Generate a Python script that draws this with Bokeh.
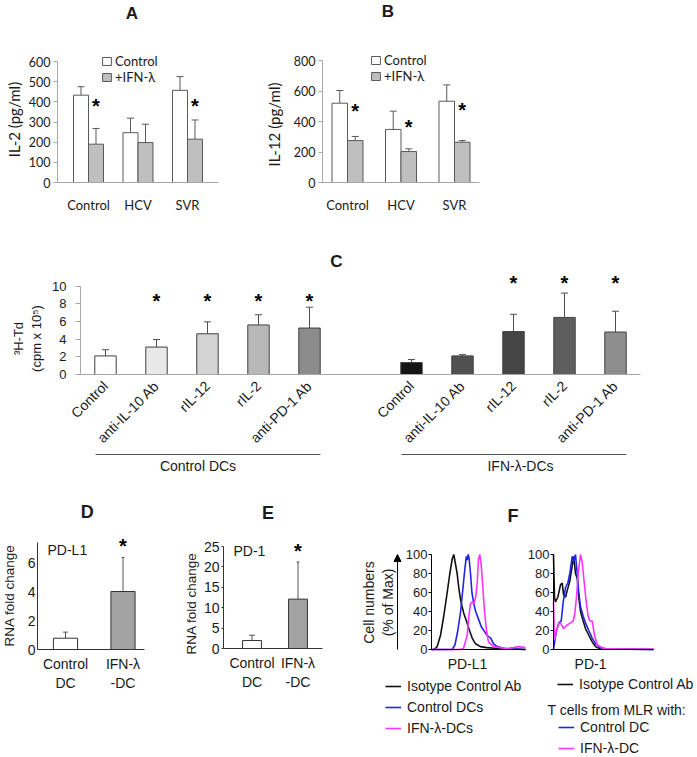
from math import pi
from bokeh.plotting import figure
from bokeh.layouts import column, row
from bokeh.models import (Range1d, FixedTicker, LinearAxis, Label, Legend, LegendItem,
                          Whisker, TeeHead, ColumnDataSource, Arrow, NormalHead)
from bokeh.core.properties import value
from bokeh.embed import file_html
from bokeh.resources import INLINE

# ---------------- data ----------------
ab_groups = ["Control", "HCV", "SVR"]
il2_control = [433, 247, 457]
il2_control_sd = [42, 72, 68]
il2_ifn = [190, 198, 215]
il2_ifn_sd = [78, 91, 95]
il2_star_y = [383, None, 383]

il12_control = [520, 348, 533]
il12_control_sd = [83, 120, 107]
il12_ifn = [275, 203, 264]
il12_ifn_sd = [27, 18, 11]
il12_star_y = [477, 369, 483]

c_treatments = ["Control", "anti-IL-10 Ab", "rIL-12", "rIL-2", "anti-PD-1 Ab"]
c_groups = ["Control DCs", "IFN-λ-DCs"]
c_ctrl_dc = [2.1, 3.1, 4.6, 5.6, 5.25]
c_ctrl_dc_sd = [0.7, 0.85, 1.35, 1.15, 2.35]
c_ifn_dc = [1.35, 2.1, 4.85, 6.45, 4.8]
c_ifn_dc_sd = [0.35, 0.15, 1.95, 2.75, 2.35]
c_ctrl_star = [False, True, True, True, True]
c_ifn_star = [False, False, True, True, True]
c_star_y = [8.45, 10.45]

de_labels = ["Control\nDC", "IFN-λ\n-DC"]
pdl1_fold = [0.78, 4.0]
pdl1_sd = [0.42, 2.35]
pdl1_star_y = 7.2
pd1_fold = [1.95, 12.1]
pd1_sd = [1.3, 9.1]
pd1_star_y = 24.2

# flow cytometry histograms (channel position 0-100, % of max)
pdl1_iso_x = [0, 3, 6, 9.6, 13, 16.7, 19.5, 22, 23.7, 25.5, 27.3, 29, 31, 32.6, 34.4, 37.2, 39.7, 43.3, 46.8, 52, 59, 70, 87, 100]
pdl1_iso_y = [0, 0, 3, 15, 35, 60, 80, 95, 100, 90, 80, 65, 52, 45, 38, 30, 22, 12, 6, 3, 2, 1, 0.5, 0]
pdl1_ctl_x = [0, 22, 25, 28, 31, 33, 35, 37, 38, 39, 40, 41.5, 43, 45, 47, 50, 53, 57, 60, 63, 66, 70, 78, 100]
pdl1_ctl_y = [0, 0, 5, 20, 40, 60, 80, 98, 94, 100, 96, 80, 60, 48, 40, 32, 24, 18, 14, 12, 6, 3, 1, 0]
pdl1_ifn_x = [0, 30, 34, 38, 39.7, 41.5, 43, 45, 47, 48.6, 50, 51.4, 52.8, 55, 56.4, 58.5, 60.6, 66, 73, 80.5, 87, 92.5, 100]
pdl1_ifn_y = [0, 0, 1, 15, 35, 48, 50, 48, 55, 70, 95, 100, 90, 60, 40, 20, 8, 3, 2, 1, 2, 3, 2]

pd1_iso_x = [0, 1, 2, 4.3, 7, 8.7, 10, 12, 13.7, 16.3, 18.7, 20.3, 22, 23.7, 25.3, 27, 29.7, 32, 35.3, 38.7, 42, 47, 100]
pd1_iso_y = [100, 55, 50, 55, 68, 70, 58, 55, 62, 72, 88, 98, 80, 75, 55, 40, 30, 22, 15, 8, 3, 0.5, 0]
pd1_ctl_x = [0, 3, 5.3, 7.7, 9.7, 12, 14.3, 16.3, 18.7, 20.3, 22, 23.7, 25.3, 27, 29.7, 32, 35.3, 38.7, 42, 47, 54, 100]
pd1_ctl_y = [0, 20, 28, 30, 50, 65, 70, 80, 98, 92, 100, 80, 60, 45, 35, 28, 20, 12, 6, 2, 0.5, 0]
pd1_ifn_x = [0, 1, 3, 5.3, 7.7, 10, 12.7, 17, 19.7, 21.3, 23, 24.7, 27, 28.7, 30.3, 32.7, 34.7, 36.3, 38.7, 41, 43.7, 50, 70, 100]
pd1_ifn_y = [50, 10, 20, 28, 27, 22, 25, 28, 30, 38, 55, 80, 100, 92, 75, 50, 35, 30, 30, 15, 5, 1, 0.5, 0.5]

# ---------------- styling helpers ----------------
FONT = "Liberation Sans"
FONT_AB = "Lato"
AX_GREY = "#a6a6a6"
TXT = "#1a1a1a"


def mkfig(g):
    xr = ((g["x0"] - g["ox"]) / g["sx"], (g["x0"] + g["w"] - g["ox"]) / g["sx"])
    yr = ((g["oy"] - (g["y0"] + g["h"])) / g["sy"], (g["oy"] - g["y0"]) / g["sy"])
    p = figure(width=g["w"], height=g["h"], x_range=Range1d(*xr), y_range=Range1d(*yr),
               min_border_left=0, min_border_right=0, min_border_top=0, min_border_bottom=0,
               output_backend="svg", toolbar_location=None, tools="", title=None)
    p.xgrid.visible = False
    p.ygrid.visible = False
    p.outline_line_color = None
    p.background_fill_color = "white"
    p.border_fill_color = "white"
    for ax in (p.xaxis[0], p.yaxis[0]):
        ax.minor_tick_out = 0
        ax.minor_tick_in = 0
        ax.major_tick_in = 0
        ax.major_label_text_color = TXT
    # axes sit at the frame edges given in page pixels
    xa, ya = at(g, g["fx0"], g["fy1"])
    xb, yb = at(g, g["fx1"], g["fy0"])
    p.yaxis[0].fixed_location = xa
    p.xaxis[0].fixed_location = 0
    p.xaxis[0].bounds = (xa, xb)
    return p


def at(g, px, py):
    return (px - g["ox"]) / g["sx"], (g["oy"] - py) / g["sy"]


def note(p, g, px, py, text, size, bold=False, align="center", font=FONT, angle=0):
    x, y = at(g, px, py)
    p.add_layout(Label(x=x, y=y, text=text, text_font=font, text_font_size=size, angle=angle,
                       text_font_style="bold" if bold else "normal", text_align=align,
                       text_baseline="middle", text_color=TXT))


def errbars(p, xs, tops, sds, color, head):
    src = ColumnDataSource(dict(x=xs, lo=tops, hi=[t + s for t, s in zip(tops, sds)]))
    p.add_layout(Whisker(source=src, base="x", lower="lo", upper="hi", dimension="height",
                         line_color=color, line_width=1, lower_head=None,
                         upper_head=TeeHead(size=head, line_color=color, line_width=1)))


def stars(p, xs, ys, size=20):
    p.text(x=xs, y=ys, text=["*"] * len(xs), text_font=value(FONT), text_font_style="bold",
           text_font_size=f"{size}px", text_align="center", text_baseline="alphabetic",
           y_offset=1, text_color="black")


def style_y(ax, ticks, font, fsize, tick_out, standoff, color, bounds=None):
    ax.ticker = FixedTicker(ticks=ticks)
    ax.major_label_text_font = font
    ax.major_label_text_font_size = fsize
    ax.major_tick_out = tick_out
    ax.major_tick_line_color = color
    ax.major_label_standoff = standoff
    ax.axis_line_color = color
    if bounds is not None:
        ax.bounds = bounds


def style_x(ax, ticks, labels, font, fsize, standoff, color, orientation="horizontal"):
    ax.ticker = FixedTicker(ticks=ticks)
    ax.major_label_overrides = {t: l for t, l in zip(ticks, labels)}
    ax.major_label_text_font = font
    ax.major_label_text_font_size = fsize
    ax.major_tick_out = 0
    ax.major_label_standoff = standoff
    ax.axis_line_color = color
    ax.major_label_orientation = orientation


def legend_at(g, left, bottom):
    return (left - g["x0"], g["y0"] + g["h"] - bottom)


# ---------------- panels A and B ----------------
def cytokine_panel(g, ctrl, ctrl_sd, ifn, ifn_sd, star_y, ylabel, ylab_xy, yticks, ybound, dodge, bw,
                   title_xy, legend_lb):
    p = mkfig(g)
    idx = list(range(len(ab_groups)))
    xc = [i - dodge for i in idx]
    xi = [i + dodge for i in idx]
    r1 = p.vbar(x=xc, top=ctrl, width=bw, fill_color="white", line_color="#595959", line_width=1)
    r2 = p.vbar(x=xi, top=ifn, width=bw, fill_color="#bfbfbf", line_color="#595959", line_width=1)
    errbars(p, xc, ctrl, ctrl_sd, "#595959", 7)
    errbars(p, xi, ifn, ifn_sd, "#595959", 7)
    sx = [x for x, s in zip(xi, star_y) if s is not None]
    sy = [s for s in star_y if s is not None]
    stars(p, sx, sy)
    style_y(p.yaxis[0], yticks, FONT_AB, "12.5px", 4, 3, AX_GREY, ybound)
    style_x(p.xaxis[0], idx, ab_groups, FONT_AB, "13px", 14, AX_GREY)
    leg = Legend(items=[LegendItem(label="Control", renderers=[r1]),
                        LegendItem(label="+IFN-λ", renderers=[r2])],
                 location=legend_at(g, *legend_lb), glyph_width=11, glyph_height=10, label_standoff=3,
                 spacing=0, padding=0, margin=0, label_height=15,
                 label_text_font=FONT_AB, label_text_font_size="13px", label_text_color=TXT,
                 border_line_color=None, background_fill_alpha=0)
    p.add_layout(leg)
    note(p, g, ylab_xy[0], ylab_xy[1], ylabel, "15px", font=FONT_AB, angle=pi / 2)
    note(p, g, title_xy[0], title_xy[1], title_xy[2], "17px", bold=True)
    return p


gA = dict(x0=0, y0=0, w=245, h=230, ox=88, sx=49.5, oy=182, sy=121 / 600, fx0=57, fx1=218, fy0=61, fy1=182)
gB = dict(x0=245, y0=0, w=451, h=230, ox=347, sx=53.5, oy=182, sy=122 / 800, fx0=322, fx1=479, fy0=60, fy1=182)
pA = cytokine_panel(gA, il2_control, il2_control_sd, il2_ifn, il2_ifn_sd, il2_star_y, "IL-2 (pg/ml)", (13.5, 119),
                    [0, 100, 200, 300, 400, 500, 600], (0, 600), 0.1515, 0.303, (131.5, 12.5, "A"), (101, 84.5))
pB = cytokine_panel(gB, il12_control, il12_control_sd, il12_ifn, il12_ifn_sd, il12_star_y, "IL-12 (pg/ml)", (273, 124),
                    [0, 200, 400, 600, 800], (0, 800), 0.145, 0.29, (387.5, 11, "B"), (370, 83.5))

# ---------------- panel C ----------------
gC = dict(x0=0, y0=230, w=696, h=265, ox=105, sx=51.0, oy=374, sy=8.85, fx0=80, fx1=640, fy0=285.5, fy1=374)
pC = mkfig(gC)
c_ctrl_x = [0, 1, 2, 3, 4]
c_ifn_x = [6, 7, 8, 9, 10]
ctrl_fills = ["#ffffff", "#e8e8e8", "#d4d4d4", "#b8b8b8", "#8c8c8c"]
ifn_fills = ["#141414", "#505050", "#454545", "#5e5e5e", "#8e8e8e"]
pC.vbar(x=c_ctrl_x, top=c_ctrl_dc, width=0.42, fill_color=ctrl_fills, line_color="#404040", line_width=1)
pC.vbar(x=c_ifn_x, top=c_ifn_dc, width=0.42, fill_color=ifn_fills, line_color="#404040", line_width=1)
errbars(pC, c_ctrl_x, c_ctrl_dc, c_ctrl_dc_sd, "#505050", 7)
errbars(pC, c_ifn_x, c_ifn_dc, c_ifn_dc_sd, "#505050", 7)
stars(pC, [x for x, s in zip(c_ctrl_x, c_ctrl_star) if s], [c_star_y[0]] * sum(c_ctrl_star))
stars(pC, [x for x, s in zip(c_ifn_x, c_ifn_star) if s], [c_star_y[1]] * sum(c_ifn_star))
style_y(pC.yaxis[0], [0, 2, 4, 6, 8, 10], FONT, "13px", 5, 9, AX_GREY, (0, 10))
style_x(pC.xaxis[0], c_ctrl_x + c_ifn_x, c_treatments + c_treatments, FONT, "14px", 9, AX_GREY, pi / 4)
bracket_y = at(gC, 0, 454)[1]
for grp in (c_ctrl_x, c_ifn_x):
    br = LinearAxis(ticker=FixedTicker(ticks=[]), bounds=(grp[0] - 0.2, grp[-1] + 0.22), axis_line_color="#555555",
                    major_tick_out=0, major_tick_in=0, minor_tick_out=0, minor_tick_in=0,
                    major_label_text_font_size="0px", major_label_standoff=0, fixed_location=bracket_y)
    pC.add_layout(br, "below")
note(pC, gC, 197.5, 465, c_groups[0], "14px")
note(pC, gC, 520, 465, c_groups[1], "14px")
note(pC, gC, 27, 338, "³H-Td\n(cpm x 10⁵)", "13px", angle=pi / 2)
note(pC, gC, 336, 261, "C", "17px", bold=True)


# ---------------- panels D and E ----------------
def fold_panel(g, vals, sds, star_y, ticks, tag, tag_xy, title_xy, ylab_xy, bw, heads, tick_out):
    p = mkfig(g)
    xs = [0, 1]
    p.vbar(x=xs, top=vals, width=bw, fill_color=["white", "#a3a3a3"], line_color="#333333", line_width=1)
    for x, v, s, h in zip(xs, vals, sds, heads):
        errbars(p, [x], [v], [s], "#555555", h)
    stars(p, [1], [star_y])
    style_y(p.yaxis[0], ticks, FONT, "14px", tick_out, 2, "#333333", (0, at(g, 0, g["fy0"])[1]))
    style_x(p.xaxis[0], xs, de_labels, FONT, "14px", 6, "#333333")
    note(p, g, tag_xy[0], tag_xy[1], tag, "14px", align="left")
    note(p, g, ylab_xy[0], ylab_xy[1], "RNA fold change", "13.5px", angle=pi / 2)
    note(p, g, title_xy[0], title_xy[1], title_xy[2], "18px", bold=True)
    return p


gD = dict(x0=0, y0=495, w=180, h=261, ox=65, sx=57.5, oy=649, sy=14.5, fx0=37, fx1=144, fy0=542, fy1=649)
gE = dict(x0=180, y0=495, w=172, h=261, ox=251.5, sx=46, oy=648, sy=4.08, fx0=223, fx1=322, fy0=546, fy1=648)
pD = fold_panel(gD, pdl1_fold, pdl1_sd, pdl1_star_y, [0, 2, 4, 6], "PD-L1", (47, 549), (86.7, 511.5, "D"),
                (9, 595), 0.42, [5, 3], 0)
pE = fold_panel(gE, pd1_fold, pd1_sd, pd1_star_y, [0, 5, 10, 15, 20, 25], "PD-1", (233, 550), (267.5, 512.5, "E"),
                (191, 603), 0.41, [6, 3], 2)

# ---------------- panel F ----------------
ISO, BLUE, MAG = "#111111", "#2323e6", "#ff33ff"


def hist_panel(g, series):
    p = mkfig(g)
    rs = []
    for xs, ys, c in series:
        rs.append(p.line(xs, ys, line_color=c, line_width=1.6))
    style_y(p.yaxis[0], [0, 20, 40, 60, 80, 100], FONT, "13px", 3, 1, "black", (0, 100))
    ax = p.xaxis[0]
    ax.ticker = FixedTicker(ticks=[])
    ax.major_label_text_font_size = "0px"
    ax.major_tick_out = 0
    ax.axis_line_color = "black"
    return p, rs


gFL = dict(x0=352, y0=495, w=175, h=261, ox=431, sx=0.94, oy=649, sy=0.95, fx0=431, fx1=525, fy0=554, fy1=649)
gFR = dict(x0=527, y0=495, w=169, h=261, ox=553, sx=1.0, oy=649, sy=0.95, fx0=553, fx1=653, fy0=554, fy1=649)
pFL, rL = hist_panel(gFL, [(pdl1_iso_x, pdl1_iso_y, ISO), (pdl1_ctl_x, pdl1_ctl_y, BLUE), (pdl1_ifn_x, pdl1_ifn_y, MAG)])
pFR, rR = hist_panel(gFR, [(pd1_iso_x, pd1_iso_y, ISO), (pd1_ctl_x, pd1_ctl_y, BLUE), (pd1_ifn_x, pd1_ifn_y, MAG)])

arrow_x = at(gFL, 397, 0)[0]
pFL.add_layout(Arrow(x_start=arrow_x, y_start=0, x_end=arrow_x, y_end=100, line_color="black", line_width=1,
                     end=NormalHead(size=7, fill_color="black", line_color="black")))
note(pFL, gFL, 378, 602, "Cell numbers\n(% of Max)", "14px", angle=pi / 2)
note(pFL, gFL, 467, 663, "PD-L1", "14px")
note(pFR, gFR, 590, 663, "PD-1", "14px")
note(pFL, gFL, 512.5, 515, "F", "18px", bold=True)

leg_kw = dict(glyph_width=16, glyph_height=16, label_standoff=6, padding=0, margin=0, label_height=16,
              label_text_font=FONT, label_text_font_size="14px", label_text_color=TXT,
              border_line_color=None, background_fill_alpha=0)
pFL.add_layout(Legend(items=[LegendItem(label="Isotype Control Ab", renderers=[rL[0]]),
                             LegendItem(label="Control DCs", renderers=[rL[1]]),
                             LegendItem(label="IFN-λ-DCs", renderers=[rL[2]])],
                      location=legend_at(gFL, 385, 736), spacing=5, **leg_kw))
pFR.add_layout(Legend(items=[LegendItem(label="Isotype Control Ab", renderers=[rR[0]])],
                      location=legend_at(gFR, 557, 692), spacing=0, **leg_kw))
note(pFR, gFR, 547, 709, "T cells from MLR with:", "14px", align="left")
pFR.add_layout(Legend(items=[LegendItem(label="Control DC", renderers=[rR[1]]),
                             LegendItem(label="IFN-λ-DC", renderers=[rR[2]])],
                      location=legend_at(gFR, 558, 756), spacing=5, **leg_kw))

layout = column(row(pA, pB), pC, row(pD, pE, pFL, pFR))
open("out.html", "w").write(file_html(layout, INLINE))
